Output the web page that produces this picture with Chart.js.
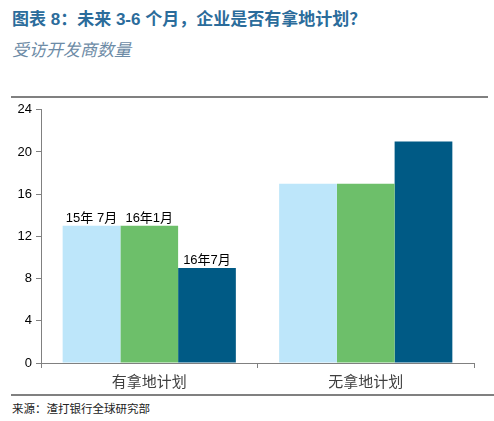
<!DOCTYPE html>
<html lang="zh">
<head>
  <meta charset="UTF-8">
  <title>企业是否有拿地计划</title>
  <script src="https://cdn.jsdelivr.net/npm/chart.js"></script>
  <style>
    body {
      margin: 0;
      width: 494px;
      height: 421px;
      position: relative;
      background: #fff;
      font-family: 'Liberation Sans', Arial, 'Noto Sans CJK SC', sans-serif;
      overflow: hidden;
    }
    .title {
      position: absolute; left: 12px; top: 5px;
      font-size: 17px; font-weight: bold; color: #2b6c9b;
    }
    .subtitle {
      position: absolute; left: 12px; top: 36px;
      font-size: 17px; font-style: italic; color: #6d8ba6;
    }
    .rule { position: absolute; left: 11px; height: 2px; background: #808080; }
    .box { position: absolute; left: 11px; top: 98px; width: 483px; height: 296px; }
    .source {
      position: absolute; left: 12px; top: 400px;
      font-size: 11.5px; color: #222;
    }
  </style>
</head>
<body>
  <div class="title">图表 8：未来 3-6 个月，企业是否有拿地计划？</div>
  <div class="subtitle">受访开发商数量</div>
  <div class="rule" style="top:96px; width:477px;"></div>
  <div class="box"><canvas id="barCanvas" width="483" height="296"></canvas></div>
  <div class="rule" style="top:394px; width:483px;"></div>
  <div class="source">来源：渣打银行全球研究部</div>

  <script>
    const categories = ['有拿地计划', '无拿地计划'];
    const seriesNames = ['15年 7月', '16年1月', '16年7月'];
    const jul15 = [13, 17];
    const jan16 = [13, 17];
    const jul16 = [9, 21];
    const yTicks = [0, 4, 8, 12, 16, 20, 24];

    const colors = ['#bde6fa', '#6dbf6a', '#005a85'];
    const fontFam = "'Liberation Sans', Arial, 'Noto Sans CJK SC', sans-serif";

    // series names written above the bars of the first group
    const barNames = {
      id: 'barNames',
      afterDatasetsDraw(chart) {
        const ctx = chart.ctx;
        ctx.save();
        ctx.font = '13px ' + fontFam;
        ctx.fillStyle = '#000';
        ctx.textAlign = 'center';
        ctx.textBaseline = 'bottom';
        chart.data.datasets.forEach((ds, i) => {
          const bar = chart.getDatasetMeta(i).data[0];
          ctx.fillText(ds.label, bar.x, bar.y - 1);
        });
        ctx.restore();
      }
    };

    new Chart(document.getElementById('barCanvas'), {
      type: 'bar',
      data: {
        labels: categories,
        datasets: [
          { label: seriesNames[0], data: jul15, backgroundColor: colors[0] },
          { label: seriesNames[1], data: jan16, backgroundColor: colors[1] },
          { label: seriesNames[2], data: jul16, backgroundColor: colors[2] }
        ]
      },
      options: {
        responsive: false,
        animation: false,
        layout: { padding: { top: 11, right: 20, left: 0, bottom: 0 } },
        datasets: { bar: { barPercentage: 1, categoryPercentage: 0.8 } },
        plugins: { legend: { display: false }, tooltip: { enabled: false } },
        scales: {
          x: {
            grid: { drawOnChartArea: false, tickLength: 5, color: '#808080' },
            border: { color: '#808080' },
            ticks: { color: '#404040', font: { size: 15, family: fontFam }, padding: 6 },
            afterFit: s => { s.height = 31; }
          },
          y: {
            min: 0, max: 24,
            afterBuildTicks: s => { s.ticks = yTicks.map(v => ({ value: v })); },
            grid: { drawOnChartArea: false, tickLength: 5, color: '#808080' },
            border: { color: '#808080' },
            ticks: { color: '#000', font: { size: 13, family: fontFam }, padding: 4 },
            afterFit: s => { s.width = 30; }
          }
        }
      },
      plugins: [barNames]
    });
  </script>
</body>
</html>
